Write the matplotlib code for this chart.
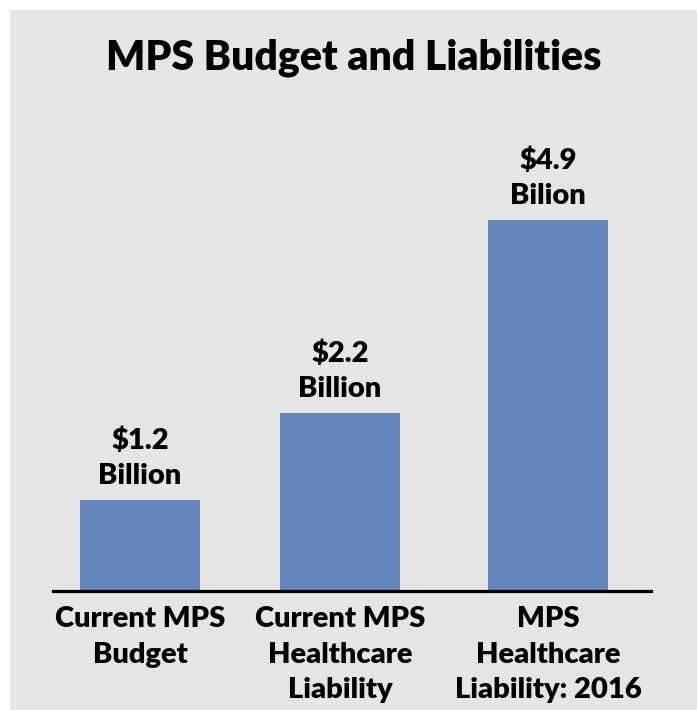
import matplotlib
matplotlib.use("Agg")
import matplotlib.pyplot as plt
from matplotlib.patches import Rectangle

categories = ["Current MPS\nBudget", "Current MPS\nHealthcare\nLiability", "MPS\nHealthcare\nLiability: 2016"]
bar_heights = [1.2, 2.35, 4.9]
value_labels = ["$1.2\nBillion", "$2.2\nBillion", "$4.9\nBilion"]
title = "MPS Budget and Liabilities"

W, H = 697, 710
fig = plt.figure(figsize=(W / 100, H / 100), dpi=100)
fig.patch.set_facecolor("white")
fig.patches.append(Rectangle((10 / W, 0), 1 - 10 / W, 1 - 10 / H, transform=fig.transFigure,
                             facecolor="#e5e5e5", edgecolor="none", zorder=-5))

FONT = "Lato"
WEIGHT = "heavy"
base_px = 591
top_px = 100
ax = fig.add_axes([53 / W, (H - base_px) / H, (651 - 53) / W, (base_px - top_px) / H])
ax.set_facecolor("none")
ax.set_zorder(2)

x_pos = [0, 1, 2.04]
bars = ax.bar(x_pos, bar_heights, width=0.6, color="#6687bd", zorder=2)
ax.set_xlim(-0.435, 2.555)
ax.set_ylim(0, (base_px - top_px) / 75.7)

for s in ["top", "right", "left"]:
    ax.spines[s].set_visible(False)
ax.spines["bottom"].set_linewidth(2.3)
ax.spines["bottom"].set_color("black")
ax.set_yticks([])
ax.set_xticks(x_pos)
ax.set_xticklabels(categories, fontsize=21, fontweight=WEIGHT, family=FONT, linespacing=1.45, va="top")
ax.tick_params(axis="x", length=0, pad=11)

for x, h, lab in zip(x_pos, bar_heights, value_labels):
    ax.annotate(lab, (x, h), xytext=(0, 8), textcoords="offset points", ha="center", va="bottom",
                fontsize=21, fontweight=WEIGHT, family=FONT, linespacing=1.45)

fig.text((10 + W) / 2 / W, 1 - 58 / H, title, ha="center", va="center", fontsize=29.5,
         fontweight=WEIGHT, family=FONT, zorder=3)

fig.savefig("out.png", dpi=100)
